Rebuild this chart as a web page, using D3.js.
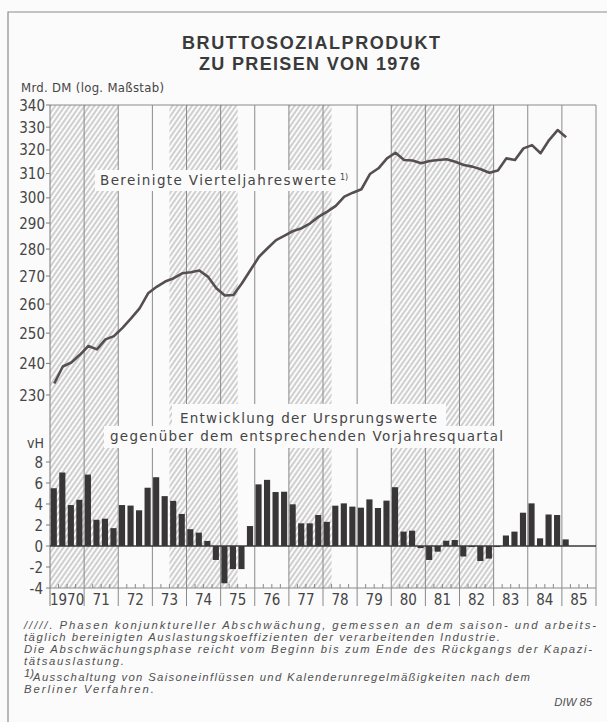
<!DOCTYPE html>
<html>
<head>
<meta charset="utf-8">
<script src="https://cdn.jsdelivr.net/npm/d3@7/dist/d3.min.js"></script>
<style>
	body { margin: 0; background: #fbfbfb; }
	svg { display: block; }
	.num { font-family: 'DejaVu Sans Condensed', 'DejaVu Sans', sans-serif; font-stretch: condensed; fill: #454545; }
	.lbl { font-family: 'DejaVu Sans', sans-serif; fill: #454545; }
	.title { font-family: 'Liberation Sans', Arial, sans-serif; font-weight: bold; font-size: 18px; fill: #3a3a3a; }
	.note { font-family: 'Liberation Sans', Arial, sans-serif; font-style: italic; font-size: 11.3px; fill: #505050; }
</style>
</head>
<body>
<svg id="chart" width="607" height="722"></svg>
<script>

var yearLabels = ["1970", "71", "72", "73", "74", "75", "76", "77", "78", "79", "80", "81", "82", "83", "84", "85"];

// Phasen konjunktureller Abschwächung (Jahr als Dezimalzahl)
var phases = [[1970, 1972], [1973.5, 1975.5], [1977, 1978.25], [1980, 1983]];

var bspTicks = [340, 330, 320, 310, 300, 290, 280, 270, 260, 250, 240, 230];
var vhTicks = [8, 6, 4, 2, 0, -2, -4];

// Bereinigte Vierteljahreswerte, Mrd. DM, 1970 Q1 .. 1985 Q1
var bsp = [
	233.6, 239.0, 240.3, 242.8,
	245.7, 244.6, 247.9, 249.0,
	251.8, 255.0, 258.5, 263.8,
	266.1, 268.0, 269.2, 271.0,
	271.4, 272.0, 269.8, 265.6,
	263.0, 263.2, 267.4, 272.2,
	277.1, 280.3, 283.4, 285.1,
	286.9, 288.0, 289.9, 292.5,
	294.5, 296.8, 300.5, 302.1,
	303.5, 309.8, 312.2, 316.4,
	318.8, 315.7, 315.5, 314.3,
	315.3, 315.7, 316.0, 315.0,
	313.6, 312.9, 311.8, 310.3,
	311.3, 316.4, 315.7, 320.7,
	322.1, 318.6, 324.3, 328.7,
	325.5
];

// Veränderung gegenüber Vorjahresquartal, vH, 1970 Q1 .. 1985 Q1
var vh = [
	5.5, 7.0, 3.9, 4.4,
	6.8, 2.5, 2.6, 1.7,
	3.9, 3.85, 3.4, 5.55,
	6.55, 4.75, 4.3, 3.05,
	1.6, 1.27, 0.48, -1.33,
	-3.55, -2.2, -2.2, 1.9,
	5.87, 6.3, 5.14, 5.17,
	3.97, 2.16, 2.16, 2.95,
	2.3, 3.84, 4.06, 3.75,
	3.65, 4.44, 3.62, 4.32,
	5.6, 1.37, 1.46, -0.2,
	-1.33, -0.54, 0.5, 0.57,
	-1.0, -0.1, -1.43, -1.2,
	-0.1, 1.0, 1.37, 3.17,
	4.06, 0.73, 3.0, 2.95,
	0.63
];

var svg = d3.select("#chart");

// Skalen
var x = d3.scaleLinear().domain([1970, 1986]).range([50, 596]),
	yBsp = d3.scaleLog().domain([230, 340]).range([395, 105]),
	yVh = d3.scaleLinear().domain([-4, 8]).range([588, 462]);

var plotTop = yBsp(340),
	plotBot = yVh(-4),
	labelBot = 606;

function qt(i) { return 1970 + i / 4; }
var qw = x(1970.25) - x(1970);

// Rahmen
svg.append("path")
	.attr("d", "M8,722 V12 H607")
	.attr("fill", "none")
	.attr("stroke", "#8c8c8c")
	.attr("stroke-width", 1.2);

// Schraffur
svg.append("defs").append("pattern")
	.attr("id", "hatch")
	.attr("patternUnits", "userSpaceOnUse")
	.attr("width", 4)
	.attr("height", 10)
	.attr("patternTransform", "rotate(35)")
	.append("line")
	.attr("x1", 2).attr("y1", 0)
	.attr("x2", 2).attr("y2", 10)
	.attr("stroke", "#8c8c8c")
	.attr("stroke-width", 0.8);

svg.append("g").selectAll("rect")
	.data(phases)
	.enter().append("rect")
	.attr("x", function(d) { return x(d[0]); })
	.attr("y", plotTop)
	.attr("width", function(d) { return x(d[1]) - x(d[0]); })
	.attr("height", plotBot - plotTop)
	.attr("fill", "url(#hatch)");

// Jahreslinien
svg.append("g").selectAll("line")
	.data(d3.range(1971, 1987))
	.enter().append("line")
	.attr("x1", function(d) { return x(d); })
	.attr("x2", function(d) { return x(d); })
	.attr("y1", plotTop)
	.attr("y2", labelBot)
	.attr("stroke", "#8a8a8a")
	.attr("stroke-width", 1);

// Rahmen oben, links, unten
svg.append("line")
	.attr("x1", x(1970)).attr("x2", x(1986))
	.attr("y1", plotTop).attr("y2", plotTop)
	.attr("stroke", "#8a8a8a");
svg.append("line")
	.attr("x1", x(1970)).attr("x2", x(1970))
	.attr("y1", plotTop).attr("y2", labelBot)
	.attr("stroke", "#7a7a7a");
svg.append("line")
	.attr("x1", x(1970)).attr("x2", x(1986))
	.attr("y1", plotBot).attr("y2", plotBot)
	.attr("stroke", "#8a8a8a");

// Quartalsstriche
svg.append("g").selectAll("line")
	.data(d3.range(0, 64).filter(function(i) { return i % 4 !== 0; }))
	.enter().append("line")
	.attr("x1", function(i) { return x(qt(i)); })
	.attr("x2", function(i) { return x(qt(i)); })
	.attr("y1", plotBot)
	.attr("y2", plotBot - 4)
	.attr("stroke", "#8a8a8a");

// Beschriftungen mit weißem Hintergrund
function boxedText(txt, tx, ty, len, size, bx, by, bw, bh) {
	svg.append("rect")
		.attr("x", bx).attr("y", by)
		.attr("width", bw).attr("height", bh)
		.attr("fill", "#fbfbfb");
	return svg.append("text")
		.attr("class", "lbl")
		.attr("x", tx).attr("y", ty)
		.attr("font-size", size)
		.attr("textLength", len)
		.attr("lengthAdjust", "spacing")
		.text(txt);
}

boxedText("Bereinigte Vierteljahreswerte", 100, 185, 236, 13.5, 95, 170, 258, 21);
svg.append("text")
	.attr("class", "lbl")
	.attr("x", 340).attr("y", 180)
	.attr("font-size", 8)
	.text("1)");

boxedText("Entwicklung der Ursprungswerte", 180, 423, 257, 13.5, 172, 404, 274, 24);
boxedText("gegenüber dem entsprechenden Vorjahresquartal", 110, 441, 393, 13.5, 104, 426, 408, 22);

// Balken
svg.append("g").selectAll("rect")
	.data(vh)
	.enter().append("rect")
	.attr("x", function(d, i) { return x(qt(i)) + 0.7; })
	.attr("width", qw * 0.72)
	.attr("y", function(d) { return yVh(Math.max(0, d)); })
	.attr("height", function(d) { return Math.abs(yVh(d) - yVh(0)); })
	.attr("fill", "#383636");

// Nulllinie
svg.append("line")
	.attr("x1", x(1970)).attr("x2", x(1986))
	.attr("y1", yVh(0)).attr("y2", yVh(0))
	.attr("stroke", "#3a3a3a")
	.attr("stroke-width", 1.4);

// Linie
var line = d3.line()
	.x(function(d, i) { return x(qt(i) + 0.125); })
	.y(function(d) { return yBsp(d); });

svg.append("path")
	.attr("d", line(bsp))
	.attr("fill", "none")
	.attr("stroke", "#574f4f")
	.attr("stroke-width", 2.6)
	.attr("stroke-linejoin", "round");

// Achsen
var axBsp = svg.append("g");
axBsp.selectAll("line")
	.data(bspTicks)
	.enter().append("line")
	.attr("x1", x(1970) - 4).attr("x2", x(1970))
	.attr("y1", function(d) { return yBsp(d); })
	.attr("y2", function(d) { return yBsp(d); })
	.attr("stroke", "#7a7a7a");
axBsp.selectAll("text")
	.data(bspTicks)
	.enter().append("text")
	.attr("class", "num")
	.attr("x", 45)
	.attr("y", function(d) { return yBsp(d) + 5.5; })
	.attr("text-anchor", "end")
	.attr("font-size", 15)
	.text(function(d) { return d; });

var axVh = svg.append("g");
axVh.selectAll("line")
	.data(vhTicks)
	.enter().append("line")
	.attr("x1", x(1970) - 4).attr("x2", x(1970))
	.attr("y1", function(d) { return yVh(d); })
	.attr("y2", function(d) { return yVh(d); })
	.attr("stroke", "#7a7a7a");
axVh.selectAll("text")
	.data(vhTicks)
	.enter().append("text")
	.attr("class", "num")
	.attr("x", 43)
	.attr("y", function(d) { return yVh(d) + 5.5; })
	.attr("text-anchor", "end")
	.attr("font-size", 15)
	.text(function(d) { return d < 0 ? "-" + Math.abs(d) : d; });

svg.append("text")
	.attr("class", "num")
	.attr("x", 27).attr("y", 448)
	.attr("font-size", 14)
	.text("vH");

svg.append("text")
	.attr("class", "num")
	.attr("x", 21).attr("y", 92)
	.attr("font-size", 13)
	.attr("textLength", 143)
	.text("Mrd. DM (log. Maßstab)");

svg.append("g").selectAll("text")
	.data(yearLabels)
	.enter().append("text")
	.attr("class", "num")
	.attr("x", function(d, i) { return x(1970 + i + 0.5); })
	.attr("y", 605)
	.attr("text-anchor", "middle")
	.attr("font-size", 15)
	.text(function(d) { return d; });

// Titel
svg.append("text")
	.attr("class", "title")
	.attr("x", 182).attr("y", 49)
	.attr("textLength", 258)
	.text("BRUTTOSOZIALPRODUKT");
svg.append("text")
	.attr("class", "title")
	.attr("x", 199).attr("y", 70)
	.attr("textLength", 221)
	.text("ZU PREISEN VON 1976");

// Fußnoten
var notes = [
	{t: "/////. Phasen konjunktureller Abschwächung, gemessen an dem saison-  und arbeits-", x: 24, y: 629, len: 572},
	{t: "täglich bereinigten Auslastungskoeffizienten der verarbeitenden Industrie.", x: 24, y: 641, len: 476},
	{t: "Die Abschwächungsphase reicht vom Beginn bis zum Ende des Rückgangs der Kapazi-", x: 24, y: 653, len: 568},
	{t: "tätsauslastung.", x: 24, y: 665, len: 100},
	{t: "Ausschaltung von Saisoneinflüssen und Kalenderunregelmäßigkeiten nach dem", x: 33, y: 681, len: 497},
	{t: "Berliner Verfahren.", x: 24, y: 693, len: 130}
];

svg.append("g").selectAll("text")
	.data(notes)
	.enter().append("text")
	.attr("class", "note")
	.attr("x", function(d) { return d.x; })
	.attr("y", function(d) { return d.y; })
	.attr("textLength", function(d) { return d.len; })
	.attr("lengthAdjust", "spacing")
	.text(function(d) { return d.t; });

svg.append("text")
	.attr("class", "note")
	.attr("font-style", "normal")
	.attr("x", 24).attr("y", 677)
	.attr("font-size", 7.5)
	.text("1)");

svg.append("text")
	.attr("class", "note")
	.attr("font-style", "normal")
	.attr("x", 592).attr("y", 706)
	.attr("text-anchor", "end")
	.attr("font-size", 8)
	.text("DIW 85");

</script>
</body>
</html>
